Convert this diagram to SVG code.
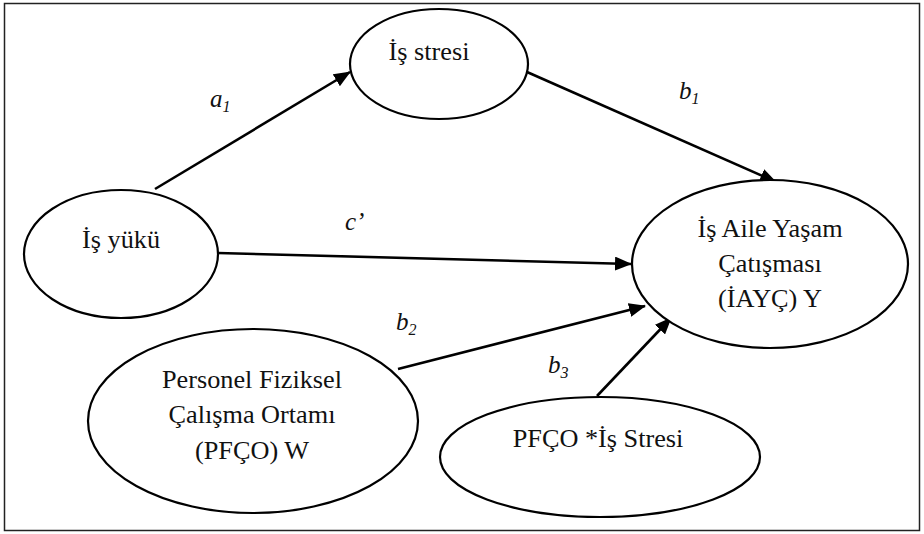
<svg xmlns="http://www.w3.org/2000/svg" width="924" height="534" viewBox="0 0 924 534">
<style>
.n{fill:#fff;stroke:#000;stroke-width:2.2}
.t{font-family:"Liberation Serif","Times New Roman",serif;font-size:25px;text-anchor:middle;fill:#111}
.l{font-family:"Liberation Serif","Times New Roman",serif;font-size:25px;font-style:italic;fill:#111}
.s{font-size:16px}
.c{stroke:#000;stroke-width:2.6;fill:none;marker-end:url(#ah)}
</style>
<defs>
<marker id="ah" markerUnits="userSpaceOnUse" markerWidth="17" markerHeight="14" refX="16" refY="7" orient="auto">
<path d="M0,0 L17,7 L0,14 z" fill="#000"/>
</marker>
</defs>
<rect x="4.5" y="3.5" width="915" height="527" fill="#fff" stroke="#222" stroke-width="1.5"/>
<g id="connectors">
<line class="c" x1="155" y1="189" x2="350" y2="72"/>
<line class="c" x1="527" y1="72" x2="776" y2="182"/>
<line class="c" x1="218" y1="253" x2="631" y2="264"/>
<line class="c" x1="398" y1="369" x2="645" y2="306"/>
<line class="c" x1="597" y1="396" x2="671" y2="318"/>
</g>
<g id="labels">
<text class="l" x="210" y="107">a<tspan class="s" dy="5">1</tspan></text>
<text class="l" x="679" y="99">b<tspan class="s" dy="5">1</tspan></text>
<text class="l" x="345" y="230">c’</text>
<text class="l" x="396" y="330">b<tspan class="s" dy="5">2</tspan></text>
<text class="l" x="548" y="373">b<tspan class="s" dy="5">3</tspan></text>
</g>
<g id="is-stresi">
<ellipse class="n" cx="439" cy="64" rx="89" ry="55"/>
<text class="t" transform="translate(429,60) scale(1.05,1)">İş stresi</text>
</g>
<g id="is-yuku">
<ellipse class="n" cx="121" cy="254" rx="97" ry="64"/>
<text class="t" transform="translate(121,248) scale(1.05,1)">İş yükü</text>
</g>
<g id="iayc">
<ellipse class="n" cx="770" cy="264" rx="138" ry="84"/>
<text class="t" transform="translate(770,237) scale(1.05,1)">İş Aile Yaşam</text>
<text class="t" transform="translate(770,272) scale(1.05,1)">Çatışması</text>
<text class="t" transform="translate(770,307) scale(1.05,1)">(İAYÇ) Y</text>
</g>
<g id="pfco">
<ellipse class="n" cx="253" cy="421" rx="165" ry="92"/>
<text class="t" transform="translate(252,388) scale(1.05,1)">Personel Fiziksel</text>
<text class="t" transform="translate(252,423) scale(1.05,1)">Çalışma Ortamı</text>
<text class="t" transform="translate(252,459) scale(1.05,1)">(PFÇO) W</text>
</g>
<g id="pfco-is-stresi">
<ellipse class="n" cx="600" cy="457" rx="160" ry="60"/>
<text class="t" transform="translate(598,447) scale(1.05,1)">PFÇO *İş Stresi</text>
</g>
</svg>
